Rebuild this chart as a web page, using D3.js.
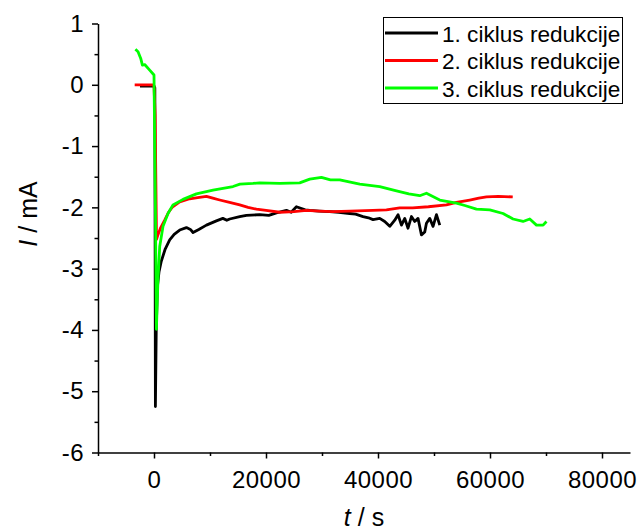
<!DOCTYPE html>
<html>
<head>
<meta charset="utf-8">
<script src="https://cdn.jsdelivr.net/npm/d3@7"></script>
<style>
  body { margin: 0; background: #fff; }
  text { font-family: Arial, "Liberation Sans", sans-serif; fill: #000; }
</style>
</head>
<body>
<div id="chart"></div>
<script>
// data: [t (s), I (mA)]
const cycle1 = [
  [-2500, -0.02], [0, -0.02], [150, -0.05], [250, -5.25], [400, -4.0], [600, -3.3],
  [900, -3.05], [1300, -2.88], [2000, -2.68], [2800, -2.53], [3600, -2.44], [4590, -2.37],
  [5790, -2.33], [6500, -2.36], [6970, -2.41], [8000, -2.36], [9360, -2.29], [11140, -2.22],
  [12300, -2.18], [13000, -2.21], [13520, -2.19], [15310, -2.15], [16500, -2.13], [18880, -2.12],
  [20500, -2.13], [21860, -2.09], [23650, -2.05], [24500, -2.08], [25430, -1.99], [27000, -2.04],
  [27810, -2.05], [29500, -2.06], [31380, -2.07], [33000, -2.08], [34950, -2.10], [36000, -2.11],
  [37330, -2.15], [38300, -2.17], [39110, -2.20], [40310, -2.18], [41200, -2.23], [42100, -2.31],
  [42990, -2.21], [43580, -2.12], [44190, -2.29], [44780, -2.18], [45360, -2.34], [45970, -2.15],
  [46560, -2.23], [47150, -2.18], [47760, -2.45], [48350, -2.40], [48650, -2.26], [49240, -2.18],
  [49830, -2.31], [50440, -2.12], [51030, -2.29]
];
const cycle2 = [
  [-3450, 0], [-200, 0], [0, -0.02], [200, -0.5], [450, -2.52], [700, -2.45], [1200, -2.33],
  [1910, -2.21], [2600, -2.08], [3340, -1.99], [4590, -1.91], [6380, -1.86], [7800, -1.84],
  [9360, -1.82], [10500, -1.85], [11730, -1.88], [13500, -1.92], [15310, -1.96], [16800, -2.0],
  [18290, -2.03], [20000, -2.05], [22450, -2.08], [25000, -2.07], [27220, -2.05], [29500, -2.06],
  [31920, -2.07], [35000, -2.06], [39060, -2.05], [41500, -2.04], [43880, -2.01], [46200, -2.01],
  [49000, -1.99], [52220, -1.96], [54000, -1.92], [56380, -1.88], [58000, -1.85], [59370, -1.83],
  [61500, -1.82], [64060, -1.83]
];
const cycle3 = [
  [-3320, 0.58], [-2850, 0.54], [-2370, 0.43], [-2070, 0.32], [-1660, 0.33], [-770, 0.24],
  [0, 0.16], [250, -2.0], [430, -3.99], [700, -3.2], [1020, -2.64], [1610, -2.31], [2500, -2.10],
  [3390, -1.96], [5180, -1.87], [7570, -1.78], [10540, -1.72], [14110, -1.66], [15340, -1.62],
  [17680, -1.61], [18880, -1.60], [22450, -1.61], [26020, -1.60], [27810, -1.54], [29900, -1.51],
  [31500, -1.55], [33170, -1.55], [36740, -1.62], [40310, -1.66], [43300, -1.73], [45500, -1.78],
  [47450, -1.81], [48650, -1.77], [51030, -1.88], [54000, -1.93], [55500, -1.97], [57580, -2.03],
  [59960, -2.04], [62330, -2.10], [64120, -2.19], [65900, -2.23], [67100, -2.19], [68300, -2.29],
  [69480, -2.29], [70080, -2.23]
];
const seriesNames = ["1. ciklus redukcije", "2. ciklus redukcije", "3. ciklus redukcije"];
const seriesColors = ["#000000", "#ff0000", "#00ff00"];

const xMajor = [0, 20000, 40000, 60000, 80000];
const xMinor = [-10000, 10000, 30000, 50000, 70000];
const yMajor = [1, 0, -1, -2, -3, -4, -5, -6];
const yMinor = [0.5, -0.5, -1.5, -2.5, -3.5, -4.5, -5.5];

const width = 640, height = 532;
const margin = { top: 23.5, right: 10, bottom: 79.5, left: 98 };

const svg = d3.select("#chart")
  .append("svg")
  .attr("width", width)
  .attr("height", height);

const x = d3.scaleLinear().domain([-10000, 85000]).range([margin.left, width - margin.right]);
const y = d3.scaleLinear().domain([-6, 1]).range([height - margin.bottom, margin.top]);

// Axes
svg.append("g")
  .attr("transform", `translate(0, ${y(-6)})`)
  .call(d3.axisBottom(x).tickValues(xMajor).tickSize(6).tickSizeOuter(0).tickPadding(12).tickFormat(d => String(d)));
svg.append("g")
  .attr("transform", `translate(0, ${y(-6)})`)
  .call(d3.axisBottom(x).tickValues(xMinor).tickSize(3.5).tickFormat(""))
  .select(".domain").remove();

svg.append("g")
  .attr("transform", `translate(${x(-10000)}, 0)`)
  .call(d3.axisLeft(y).tickValues(yMajor).tickSize(6).tickSizeOuter(0).tickPadding(8).tickFormat(d => String(d)));
svg.append("g")
  .attr("transform", `translate(${x(-10000)}, 0)`)
  .call(d3.axisLeft(y).tickValues(yMinor).tickSize(3.5).tickFormat(""))
  .select(".domain").remove();

svg.selectAll(".domain, .tick line")
  .attr("stroke", "#000")
  .attr("stroke-width", 1.5);
svg.selectAll(".tick text")
  .style("font-size", "24px")
  .style("letter-spacing", "0.5px")
  .attr("font-family", null);

// Axis titles
const yTitle = svg.append("text")
  .attr("transform", "translate(37, 214) rotate(-90)")
  .attr("text-anchor", "middle")
  .style("font-size", "25px");
yTitle.append("tspan").style("font-style", "italic").text("I");
yTitle.append("tspan").text(" / mA");

const xTitle = svg.append("text")
  .attr("x", (x(-10000) + x(85000)) / 2)
  .attr("y", 526)
  .attr("text-anchor", "middle")
  .style("font-size", "25px");
xTitle.append("tspan").style("font-style", "italic").text("t");
xTitle.append("tspan").text(" / s");

// Lines
const line = d3.line()
  .x(d => x(d[0]))
  .y(d => y(d[1]));

svg.selectAll(".series")
  .data([cycle1, cycle2, cycle3])
  .join("path")
  .attr("class", "series")
  .attr("d", line)
  .attr("fill", "none")
  .attr("stroke", (d, i) => seriesColors[i])
  .attr("stroke-width", 2.8)
  .attr("stroke-linejoin", "round");

// Legend
const legend = svg.append("g").attr("class", "legend");
legend.append("rect")
  .attr("x", 383.5)
  .attr("y", 17.5)
  .attr("width", 239)
  .attr("height", 86)
  .attr("fill", "#fff")
  .attr("stroke", "#000")
  .attr("stroke-width", 1);

const rows = legend.selectAll(".row")
  .data(seriesNames)
  .join("g")
  .attr("class", "row")
  .attr("transform", (d, i) => `translate(0, ${33 + i * 27.5})`);
rows.append("line")
  .attr("x1", 385)
  .attr("x2", 438)
  .attr("stroke", (d, i) => seriesColors[i])
  .attr("stroke-width", 3);
rows.append("text")
  .attr("x", 442)
  .attr("y", 8.5)
  .style("font-size", "22.6px")
  .text(d => d);
</script>
</body>
</html>
